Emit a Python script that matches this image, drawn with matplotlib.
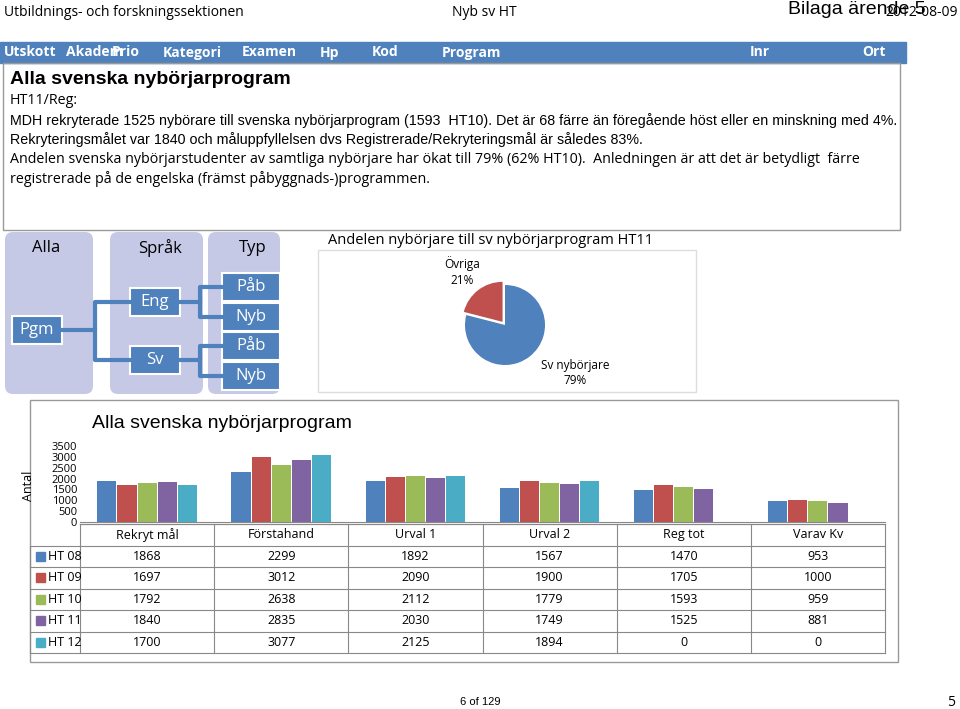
import matplotlib
matplotlib.use("Agg")
import matplotlib.pyplot as plt
from matplotlib.patches import FancyBboxPatch, Rectangle
import numpy as np

categories = ["Rekryt mål", "Förstahand", "Urval 1", "Urval 2", "Reg tot", "Varav Kv"]
series_names = ["HT 08", "HT 09", "HT 10", "HT 11", "HT 12"]
ht08 = [1868, 2299, 1892, 1567, 1470, 953]
ht09 = [1697, 3012, 2090, 1900, 1705, 1000]
ht10 = [1792, 2638, 2112, 1779, 1593, 959]
ht11 = [1840, 2835, 2030, 1749, 1525, 881]
ht12 = [1700, 3077, 2125, 1894, 0, 0]
series = [ht08, ht09, ht10, ht11, ht12]
colors = ["#4F81BD", "#C0504D", "#9BBB59", "#8064A2", "#4BACC6"]
yticks = [0, 500, 1000, 1500, 2000, 2500, 3000, 3500]
pie_labels = ["Övriga", "Sv nybörjare"]
pie_values = [21, 79]
header_labels = ["Utskott", "Akadem", "Prio", "Kategori", "Examen", "Hp", "Kod", "Program", "Inr", "Ort"]
header_x = [4, 66, 112, 163, 242, 320, 372, 442, 750, 862]

W, H = 960, 709
fig = plt.figure(figsize=(W/100, H/100), dpi=100)
bg = fig.add_axes([0, 0, 1, 1])
bg.set_xlim(0, W); bg.set_ylim(H, 0); bg.axis("off")
F = "Liberation Sans"
C = "Open Sans"

bg.text(4, 12, "Utbildnings- och forskningssektionen", fontsize=10, va="center", family=C)
bg.text(452, 12, "Nyb sv HT", fontsize=10, va="center", family=C)
bg.text(788, 9, "Bilaga ärende 5", fontsize=14, va="center", family=F)
bg.text(958, 12, "2012-08-09", fontsize=10, va="center", ha="right", family=C)
bg.add_patch(Rectangle((0, 42), 906, 21, color="#4F81BD"))
for lab, x in zip(header_labels, header_x):
    bg.text(x, 52.5, lab, color="white", fontsize=10, fontweight="bold", va="center", family=C)
bg.add_patch(Rectangle((3, 63), 897, 167, fill=False, ec="#999999", lw=1))
bg.text(10, 80, "Alla svenska nybörjarprogram", fontsize=14, fontweight="bold", va="center", family=F)
lines = ["HT11/Reg:",
         "MDH rekryterade 1525 nybörare till svenska nybörjarprogram (1593  HT10). Det är 68 färre än föregående höst eller en minskning med 4%.",
         "Rekryteringsmålet var 1840 och måluppfyllelsen dvs Registrerade/Rekryteringsmål är således 83%.",
         "Andelen svenska nybörjarstudenter av samtliga nybörjare har ökat till 79% (62% HT10).  Anledningen är att det är betydligt  färre",
         "registrerade på de engelska (främst påbyggnads-)programmen."]
for i, l in enumerate(lines):
    bg.text(10, 101 + i*19.5, l, fontsize=10.3, va="center", family=F if i in (1, 2) else C)

col = "#C6C9E6"
for x0, w in [(5, 88), (110, 93), (208, 72)]:
    bg.add_patch(FancyBboxPatch((x0, 232), w, 162, boxstyle="round,pad=0,rounding_size=8", fc=col, ec="none"))
bg.text(46, 248, "Alla", fontsize=12, ha="center", va="center", family=C)
bg.text(160, 248, "Språk", fontsize=12, ha="center", va="center", family=C)
bg.text(253, 248, "Typ", fontsize=12, ha="center", va="center", family=C)
lc = "#4F81BD"
def box(x, y, w, h, t, fc="#4F81BD", tc="white"):
    bg.add_patch(Rectangle((x, y), w, h, fc=fc, ec="white", lw=1.5))
    bg.text(x + w/2, y + h/2, t, fontsize=12, ha="center", va="center", color=tc, family=C)
bg.plot([62, 95, 95, 130], [330, 330, 302, 302], color=lc, lw=3)
bg.plot([95, 95, 130], [330, 360, 360], color=lc, lw=3)
bg.plot([180, 200, 200, 222], [302, 302, 287, 287], color=lc, lw=3)
bg.plot([200, 200, 222], [302, 317, 317], color=lc, lw=3)
bg.plot([180, 200, 200, 222], [360, 360, 346, 346], color=lc, lw=3)
bg.plot([200, 200, 222], [360, 376, 376], color=lc, lw=3)
box(12, 316, 50, 28, "Pgm")
box(130, 288, 50, 28, "Eng")
box(130, 346, 50, 28, "Sv")
for y, t in [(273, "Påb"), (303, "Nyb"), (332, "Påb"), (362, "Nyb")]:
    box(222, y, 58, 28, t)

bg.add_patch(Rectangle((318, 250), 378, 142, fc="white", ec="#DDDDDD"))
bg.text(328, 240, "Andelen nybörjare till sv nybörjarprogram HT11", fontsize=10.5, va="center", family=C)
pax = fig.add_axes([455/W, 1 - 375/H, 100/W, 100/H])
pax.pie(pie_values, colors=["#C0504D", "#4F81BD"], startangle=90, counterclock=True,
        explode=[0.1, 0], radius=1.0)
pax.set_aspect("equal")
bg.text(462, 264, "Övriga", fontsize=8.5, ha="center", va="center", family=C)
bg.text(462, 280, "21%", fontsize=8.5, ha="center", va="center", family=C)
bg.text(575, 365, "Sv nybörjare", fontsize=8.5, ha="center", va="center", family=C)
bg.text(575, 381, "79%", fontsize=8.5, ha="center", va="center", family=C)

bg.add_patch(Rectangle((30, 400), 868, 262, fc="white", ec="#999999"))
bg.text(92, 424, "Alla svenska nybörjarprogram", fontsize=14, va="center", family=F)
bg.text(28, 486, "Antal", fontsize=9, rotation=90, ha="center", va="center", family=C)
x0, x1 = 80, 885
ax = fig.add_axes([x0/W, 1 - 522/H, (x1 - x0)/W, (522 - 446)/H])
n = len(categories)
idx = np.arange(n)
bw = 0.15
for k, (s, c) in enumerate(zip(series, colors)):
    ax.bar(idx + (k - 2) * bw, s, width=bw*0.95, color=c)
ax.set_xlim(-0.5, n - 0.5)
ax.set_ylim(0, 3500)
ax.set_yticks(yticks)
ax.set_yticklabels([str(v) for v in yticks], fontsize=8, family=C)
ax.tick_params(axis="y", length=0, pad=2)
ax.set_xticks([])
for sp in ["top", "right", "left"]:
    ax.spines[sp].set_visible(False)
ax.spines["bottom"].set_color("#888888")
ax.patch.set_alpha(0)

def xc(i):
    return x0 + (i + 0.5) * (x1 - x0) / n
tb_top, rh = 524, 21.5
bg.plot([x0, x1], [tb_top, tb_top], color="#888888", lw=0.8)
for i in range(n + 1):
    xx = x0 + i * (x1 - x0) / n
    bg.plot([xx, xx], [tb_top, tb_top + rh*6], color="#888888", lw=0.8)
for r in range(7):
    xs = 30 if r >= 1 else x0
    bg.plot([xs, x1], [tb_top + rh*r, tb_top + rh*r], color="#888888", lw=0.8)
bg.plot([30, 30], [tb_top + rh, tb_top + rh*6], color="#888888", lw=0.8)
for i, cat in enumerate(categories):
    bg.text(xc(i), tb_top + rh/2, cat, fontsize=9, ha="center", va="center", family=C)
for r, (name, s, c) in enumerate(zip(series_names, series, colors)):
    yy = tb_top + rh*(r + 1) + rh/2
    bg.add_patch(Rectangle((36, yy - 4.5), 9, 9, color=c))
    bg.text(48, yy, name, fontsize=9, va="center", family=C)
    for i, v in enumerate(s):
        bg.text(xc(i), yy, str(v), fontsize=9, ha="center", va="center", family=C)

bg.text(480, 702, "6 of 129", fontsize=8, ha="center", va="center", family=F)
bg.text(955, 702, "5", fontsize=10, ha="right", va="center", family=C)
fig.savefig("out.png", dpi=100)
